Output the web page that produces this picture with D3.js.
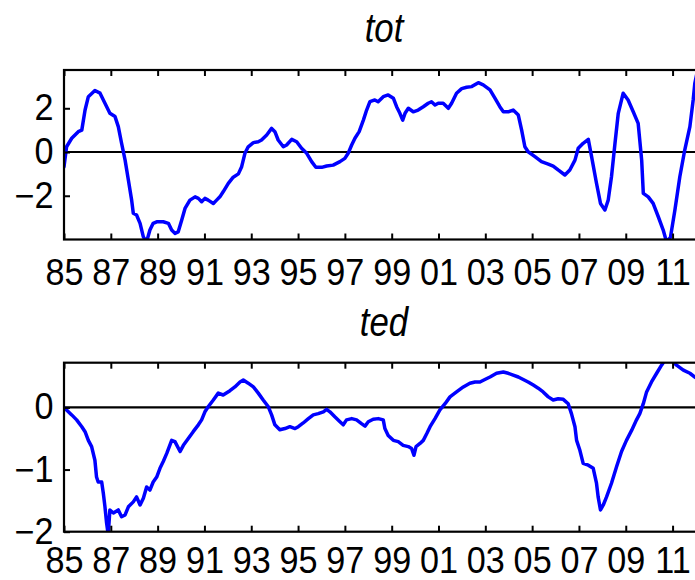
<!DOCTYPE html>
<html>
<head>
<meta charset="utf-8">
<script src="https://cdn.jsdelivr.net/npm/d3@7"></script>
<style>
  html, body { margin: 0; padding: 0; background: #fff; }
  svg { display: block; }
  text { font-family: "Liberation Sans", Arial, Helvetica, sans-serif; fill: #000; }
</style>
</head>
<body>
<svg id="chart" width="695" height="580"></svg>
<script>
// ---------- data ----------
const xTickYears = [1985,1987,1989,1991,1993,1995,1997,1999,2001,2003,2005,2007,2009,2011];
const xTickLabels = ["85","87","89","91","93","95","97","99","01","03","05","07","09","11"];

const totYTicks = [-2, 0, 2];
const tedYTicks = [-2, -1, 0];

const totYears = [1985.0,1985.11,1985.33,1985.61,1985.76,1985.9,1986.04,1986.32,1986.54,1986.75,1986.96,1987.18,1987.32,1987.46,1987.61,1987.75,1987.89,1987.96,1988.1,1988.25,1988.39,1988.53,1988.67,1988.81,1988.96,1989.24,1989.46,1989.6,1989.74,1989.88,1990.03,1990.17,1990.38,1990.6,1990.74,1990.88,1991.02,1991.16,1991.38,1991.52,1991.66,1991.8,1992.02,1992.23,1992.45,1992.59,1992.73,1992.87,1993.09,1993.3,1993.44,1993.66,1993.87,1994.01,1994.15,1994.37,1994.51,1994.73,1994.94,1995.15,1995.37,1995.58,1995.76,1996.01,1996.22,1996.5,1996.79,1997.0,1997.14,1997.29,1997.43,1997.61,1997.79,1997.93,1998.07,1998.28,1998.42,1998.64,1998.85,1999.07,1999.21,1999.35,1999.47,1999.57,1999.71,1999.92,2000.13,2000.35,2000.56,2000.7,2000.85,2000.99,2001.2,2001.42,2001.56,2001.77,2001.99,2002.2,2002.42,2002.7,2002.91,2003.2,2003.41,2003.62,2003.77,2003.98,2004.19,2004.41,2004.55,2004.69,2004.83,2005.12,2005.4,2005.69,2005.9,2006.11,2006.4,2006.61,2006.83,2006.97,2007.18,2007.4,2007.54,2007.75,2007.92,2008.11,2008.25,2008.39,2008.54,2008.68,2008.89,2009.1,2009.32,2009.53,2009.68,2009.75,2009.96,2010.17,2010.39,2010.6,2010.74,2010.91,2011.1,2011.31,2011.52,2011.74,2011.88,2011.95,2012.1];
const totValues = [-0.67,0.24,0.63,0.93,1.0,1.92,2.53,2.81,2.69,2.23,1.77,1.62,1.16,0.4,-0.37,-1.28,-2.2,-2.8,-2.88,-3.26,-3.88,-4.1,-3.57,-3.26,-3.19,-3.19,-3.26,-3.57,-3.72,-3.65,-3.11,-2.58,-2.2,-2.05,-2.12,-2.27,-2.12,-2.2,-2.35,-2.2,-2.05,-1.82,-1.43,-1.15,-1.0,-0.67,-0.06,0.24,0.43,0.47,0.55,0.78,1.08,0.93,0.55,0.24,0.32,0.58,0.47,0.17,-0.06,-0.44,-0.7,-0.7,-0.64,-0.6,-0.44,-0.29,-0.06,0.32,0.63,0.93,1.46,1.92,2.3,2.38,2.3,2.53,2.61,2.46,2.07,1.77,1.46,1.77,2.0,1.84,1.92,2.07,2.23,2.3,2.15,2.23,2.23,2.0,2.23,2.69,2.9,2.96,2.99,3.17,3.07,2.84,2.46,2.07,1.84,1.84,1.92,1.69,1.01,0.24,0.01,-0.21,-0.44,-0.55,-0.64,-0.82,-1.05,-0.82,-0.37,0.17,0.4,0.58,-0.21,-1.43,-2.35,-2.65,-2.2,-1.13,0.4,1.77,2.69,2.38,1.84,1.31,-0.37,-1.89,-2.05,-2.35,-2.96,-3.57,-4.1,-3.9,-2.65,-1.13,0.09,1.16,2.38,3.14,3.9];

const tedYears = [1985.0,1985.11,1985.33,1985.54,1985.76,1985.9,1986.04,1986.18,1986.32,1986.39,1986.46,1986.61,1986.68,1986.75,1986.82,1986.89,1986.96,1987.11,1987.32,1987.46,1987.61,1987.75,1987.96,1988.1,1988.25,1988.39,1988.53,1988.67,1988.81,1988.96,1989.1,1989.24,1989.39,1989.6,1989.74,1989.96,1990.1,1990.31,1990.52,1990.74,1990.88,1991.02,1991.16,1991.38,1991.59,1991.8,1992.09,1992.3,1992.52,1992.66,1992.87,1993.09,1993.3,1993.51,1993.73,1993.87,1994.01,1994.22,1994.44,1994.65,1994.87,1995.01,1995.22,1995.44,1995.65,1995.86,1996.08,1996.22,1996.36,1996.57,1996.79,1996.93,1997.07,1997.29,1997.5,1997.71,1997.86,1998.0,1998.21,1998.43,1998.64,1998.71,1998.85,1999.07,1999.28,1999.49,1999.71,1999.85,1999.95,2000.04,2000.21,2000.35,2000.5,2000.64,2000.85,2001.06,2001.28,2001.49,2001.77,2002.06,2002.34,2002.56,2002.77,2002.98,2003.2,2003.48,2003.77,2003.98,2004.19,2004.41,2004.62,2004.83,2005.05,2005.26,2005.47,2005.69,2005.9,2006.11,2006.33,2006.54,2006.68,2006.83,2006.9,2007.04,2007.18,2007.4,2007.61,2007.75,2007.82,2007.92,2008.04,2008.18,2008.39,2008.61,2008.82,2009.03,2009.25,2009.46,2009.6,2009.75,2009.89,2010.1,2010.32,2010.53,2010.67,2010.96,2011.17,2011.46,2011.74,2011.95,2012.2];
const tedValues = [0,-0.04,-0.12,-0.2,-0.31,-0.39,-0.53,-0.63,-0.85,-1.12,-1.2,-1.2,-1.38,-1.6,-1.86,-2.05,-1.65,-1.7,-1.65,-1.76,-1.73,-1.6,-1.52,-1.44,-1.57,-1.46,-1.28,-1.33,-1.2,-1.12,-0.98,-0.87,-0.74,-0.53,-0.55,-0.71,-0.61,-0.5,-0.39,-0.28,-0.2,-0.07,0.01,0.12,0.23,0.2,0.27,0.33,0.41,0.44,0.39,0.33,0.23,0.12,0.01,-0.12,-0.28,-0.36,-0.34,-0.31,-0.34,-0.31,-0.25,-0.18,-0.12,-0.1,-0.07,-0.03,-0.07,-0.15,-0.23,-0.28,-0.2,-0.18,-0.2,-0.26,-0.3,-0.23,-0.19,-0.18,-0.2,-0.34,-0.45,-0.53,-0.55,-0.61,-0.63,-0.66,-0.77,-0.63,-0.58,-0.53,-0.42,-0.31,-0.18,-0.04,0.06,0.17,0.25,0.33,0.39,0.41,0.41,0.45,0.49,0.55,0.57,0.55,0.52,0.49,0.45,0.41,0.36,0.31,0.25,0.17,0.12,0.14,0.13,0.06,-0.1,-0.31,-0.53,-0.69,-0.9,-0.93,-0.98,-1.22,-1.44,-1.65,-1.57,-1.44,-1.22,-0.95,-0.71,-0.53,-0.37,-0.2,-0.1,0.06,0.25,0.41,0.55,0.68,0.76,0.76,0.68,0.6,0.55,0.49,0.42];

// ---------- layout ----------
const svg = d3.select("#chart");
const plotLeft = 64, plotRight = 703;
const panels = [
  { title: "tot", titleY: 42, top: 70, bottom: 239.5, domain: [-4.0, 3.75], ticks: totYTicks, years: totYears, values: totValues, id: "c1", pad: 19.5 },
  { title: "ted", titleY: 336, top: 362.7, bottom: 531.7, domain: [-2.0, 0.72], ticks: tedYTicks, years: tedYears, values: tedValues, id: "c2", pad: 15.5 }
];

const x = d3.scaleLinear().domain([1985, 2012.3]).range([plotLeft, plotRight]);
const defs = svg.append("defs");
const intFmt = d3.format("d");

panels.forEach(p => {
  const y = d3.scaleLinear().domain(p.domain).range([p.bottom, p.top]);
  const g = svg.append("g");

  // title
  svg.append("text")
    .attr("transform", `translate(384,${p.titleY}) scale(0.87,1)`)
    .attr("text-anchor", "middle")
    .style("font-style", "italic")
    .style("font-size", "40px")
    .text(p.title);

  defs.append("clipPath").attr("id", p.id)
    .append("rect").attr("x", plotLeft).attr("y", p.top)
    .attr("width", plotRight - plotLeft).attr("height", p.bottom - p.top);

  // zero line
  g.append("line")
    .attr("x1", plotLeft).attr("x2", plotRight)
    .attr("y1", y(0)).attr("y2", y(0))
    .attr("stroke", "#000").attr("stroke-width", 2.2);

  // data line
  const pts = p.years.map((yr, i) => [yr, p.values[i]]);
  g.append("path")
    .datum(pts)
    .attr("clip-path", `url(#${p.id})`)
    .attr("fill", "none")
    .attr("stroke", "#0000ff")
    .attr("stroke-width", 3.5)
    .attr("stroke-linejoin", "round")
    .attr("stroke-linecap", "round")
    .attr("d", d3.line().x(d => x(d[0])).y(d => y(d[1])));

  // bottom axis
  const xb = g.append("g").attr("transform", `translate(0,${p.bottom})`)
    .call(d3.axisBottom(x).tickValues(xTickYears)
      .tickFormat((d, i) => xTickLabels[i]).tickSize(-6).tickPadding(p.pad));
  // top axis (ticks only)
  const xt = g.append("g").attr("transform", `translate(0,${p.top})`)
    .call(d3.axisTop(x).tickValues(xTickYears).tickFormat("").tickSize(-6));
  // left axis
  const yl = g.append("g").attr("transform", `translate(${plotLeft},0)`)
    .call(d3.axisLeft(y).tickValues(p.ticks).tickFormat(intFmt).tickSize(-6).tickPadding(11));

  [xb, xt, yl].forEach(a => {
    a.select(".domain").remove();
    a.selectAll(".tick line").attr("stroke", "#000").attr("stroke-width", 2);
  });
  [xb, yl].forEach(a => {
    a.selectAll(".tick text")
      .style("font-size", "36px")
      .attr("fill", "#000")
      .attr("transform", "scale(0.95,1)");
  });

  // frame
  g.append("rect")
    .attr("x", plotLeft).attr("y", p.top)
    .attr("width", plotRight - plotLeft).attr("height", p.bottom - p.top)
    .attr("fill", "none").attr("stroke", "#000").attr("stroke-width", 2.2);
});
</script>
</body>
</html>
